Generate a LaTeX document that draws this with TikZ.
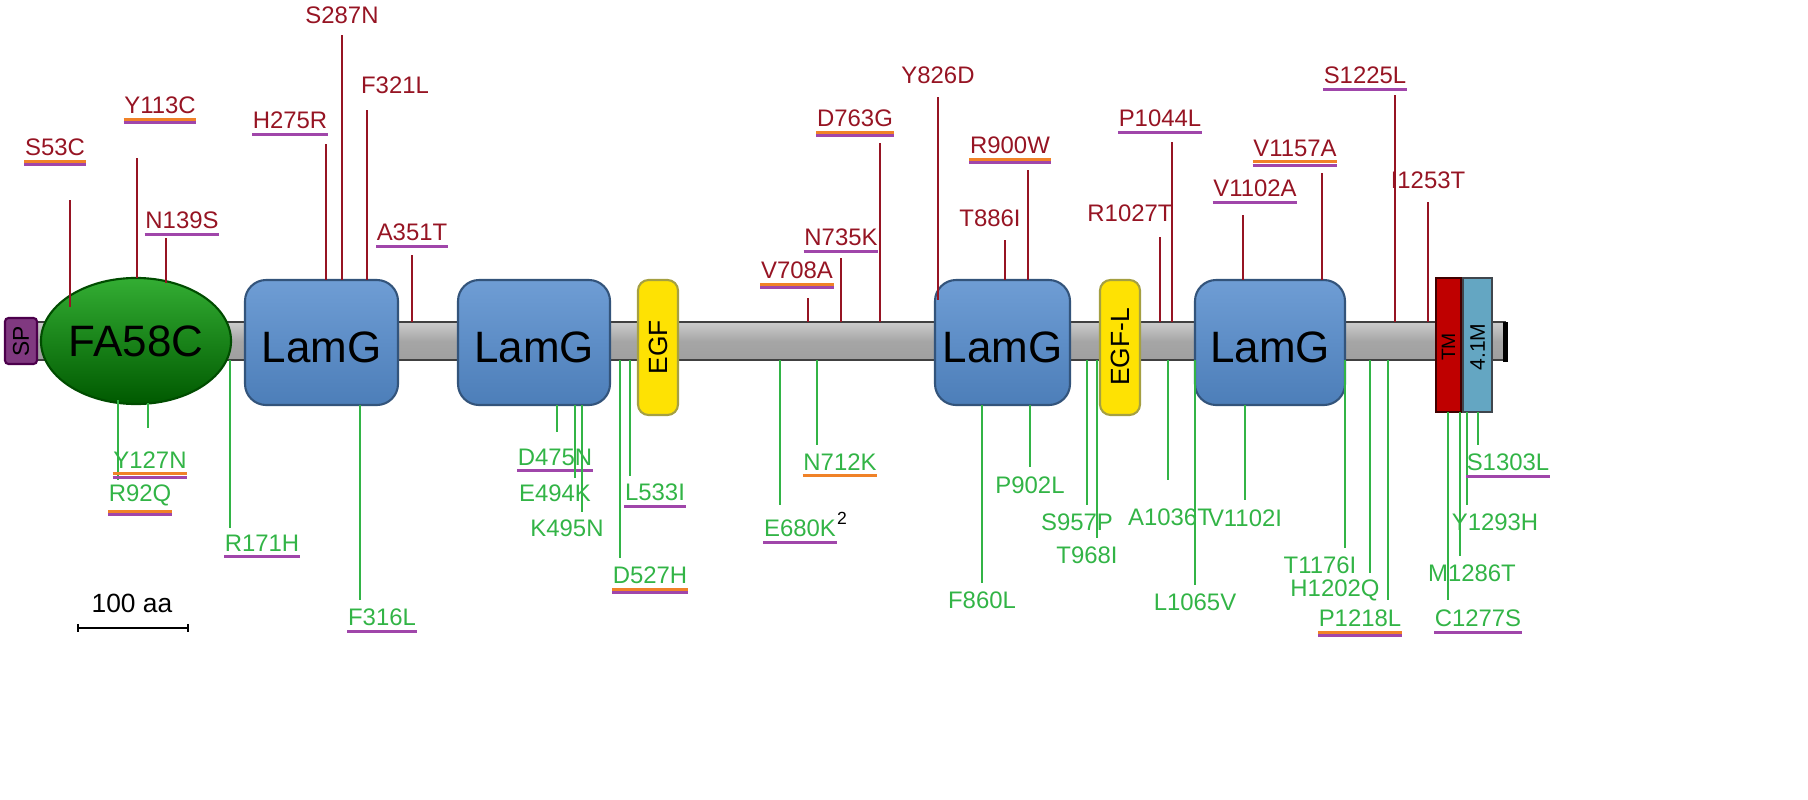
\documentclass[tikz,border=0pt]{standalone}
\usepackage{fontspec}
\setmainfont{Liberation Sans}
\usetikzlibrary{shapes.geometric}
\definecolor{mutred}{RGB}{150,20,35}
\definecolor{mutgreen}{RGB}{50,180,70}
\definecolor{ulorange}{RGB}{240,130,40}
\definecolor{ulpurple}{RGB}{160,70,170}
\definecolor{lamblue}{RGB}{85,140,205}
\tikzset{
  lbl/.style={inner sep=0, font=\fontsize{6.8}{8}\selectfont},
  dom/.style={draw=#1!60!black, line width=0.6pt, rounded corners=6pt},
  stick/.style={line width=0.45pt},
}
\newcommand{\ulmark}[2]{% node name, type
  \ifcase#2\or
    \draw[ulpurple, line width=0.85pt] ([yshift=-1.4pt]#1.south west) -- ([yshift=-1.4pt]#1.south east);
  \or
    \draw[ulorange, line width=0.85pt] ([yshift=-1.4pt]#1.south west) -- ([yshift=-1.4pt]#1.south east);
    \draw[ulpurple, line width=0.85pt] ([yshift=-2.4pt]#1.south west) -- ([yshift=-2.4pt]#1.south east);
  \or
    \draw[ulorange, line width=0.85pt] ([yshift=-1.4pt]#1.south west) -- ([yshift=-1.4pt]#1.south east);
  \fi}
\begin{document}
\begin{tikzpicture}[x=0.01cm, y=-0.01cm]
  \useasboundingbox (0,0) rectangle (1808,800);
  % backbone
  \shade[top color=gray!40, bottom color=gray!75, middle color=gray!70, draw=gray!50!black, line width=0.3pt]
    (5,322) rectangle (1505,360);
  \fill[black] (1503,322) rectangle (1508,362);
  % domains
  \node (sp) [dom=violet, fill=violet!55!gray, minimum width=0.46cm, minimum height=0.32cm, rounded corners=1pt,
    rotate=90, font=\fontsize{6.5}{8}\selectfont, inner sep=0] at (21,341) {SP};
  \node (fa58c) [ellipse, draw=green!30!black, line width=0.6pt, top color=green!60!black!80, bottom color=green!35!black,
    minimum width=1.56cm, minimum height=1.26cm, inner sep=0, font=\fontsize{12.5}{14}\selectfont] at (136,341) {FA58C};
  \foreach \xa/\xb/\nm in {245/398/lamg1, 458/610/lamg2, 935/1070/lamg3, 1195/1345/lamg4}{
    \path[dom=lamblue, top color=lamblue!85!white, bottom color=lamblue!90!black] (\xa,280) rectangle (\xb,405);
    \node (\nm) [font=\fontsize{12.5}{14}\selectfont] at ({(\xa+\xb)/2},347) {LamG};
  }
  \path[dom=yellow, fill=yellow!85!orange, rounded corners=3pt] (638,280) rectangle (678,415);
  \node (egf) [rotate=90, font=\fontsize{7.5}{9}\selectfont] at (658,347) {EGF};
  \path[dom=yellow, fill=yellow!85!orange, rounded corners=3pt] (1100,280) rectangle (1140,415);
  \node (egfl) [rotate=90, font=\fontsize{7.5}{9}\selectfont] at (1120,347) {EGF-L};
  \path[draw=red!25!black, fill=red!75!black, line width=0.5pt] (1436,278) rectangle (1461,412);
  \node (tm) [rotate=90, font=\fontsize{5.5}{7}\selectfont] at (1448.5,347) {TM};
  \path[draw=cyan!20!black, fill=cyan!50!gray, line width=0.5pt] (1463,278) rectangle (1492,412);
  \node (m41) [rotate=90, font=\fontsize{6}{7}\selectfont] at (1477.5,347) {4.1M};
  % mutations above
  \foreach \lx/\ly/\txt/\ul/\px/\ya/\yb [count=\i] in {
    55/147/S53C/2/70/200/307, 160/105/Y113C/2/137/158/278, 182/220/N139S/1/166/238/283,
    290/120/H275R/1/326/144/280, 342/15/S287N/0/342/35/280, 395/85/F321L/0/367/110/280,
    412/232/A351T/1/412/255/322, 797/270/V708A/2/808/298/322, 841/237/N735K/1/841/258/322,
    855/118/D763G/2/880/143/322, 938/75/Y826D/0/938/97/300, 990/218/T886I/0/1005/240/280,
    1010/145/R900W/2/1028/170/280, 1130/213/R1027T/0/1160/237/322, 1160/118/P1044L/1/1172/142/322,
    1255/188/V1102A/1/1243/215/280, 1295/148/V1157A/2/1322/173/280, 1365/75/S1225L/1/1395/95/322,
    1428/180/I1253T/0/1428/202/322}{
    \node (up\i) [lbl, text=mutred] at (\lx,\ly) {\txt};
    \coordinate (upa\i) at (\px,\ya);
    \coordinate (upb\i) at (\px,\yb);
    \draw[stick, mutred] (upa\i) -- (upb\i);
    \ulmark{up\i}{\ul}
  }
  % mutations below
  \foreach \lx/\ly/\txt/\ul/\px/\ya/\yb [count=\i] in {
    140/495/R92Q/2/118/400/480, 150/460/Y127N/2/148/403/428, 262/543/R171H/1/230/360/528,
    382/617/F316L/1/360/405/600, 555/457/D475N/1/557/405/432, 555/493/E494K/0/575/405/478,
    567/528/K495N/0/582/405/512, 650/575/D527H/2/620/360/558, 655/492/L533I/1/630/360/476,
    800/528/E680K/1/780/360/505, 840/462/N712K/3/817/360/445, 982/600/F860L/0/982/405/583,
    1030/485/P902L/0/1030/405/467, 1077/522/S957P/0/1087/360/505, 1087/555/T968I/0/1097/360/538,
    1170/517/A1036T/0/1168/360/480, 1195/602/L1065V/0/1195/360/585, 1245/518/V1102I/0/1245/405/500,
    1320/565/T1176I/0/1345/360/548, 1335/590/H1202Q/0/1370/360/573, 1360/618/P1218L/2/1388/360/600,
    1478/618/C1277S/1/1448/412/600, 1472/573/M1286T/0/1460/412/556, 1495/522/Y1293H/0/1467/412/505,
    1508/462/S1303L/1/1478/412/445}{
    \node (dn\i) [lbl, text=mutgreen] at (\lx,\ly) {\txt};
    \coordinate (dna\i) at (\px,\ya);
    \coordinate (dnb\i) at (\px,\yb);
    \draw[stick, mutgreen] (dna\i) -- (dnb\i);
    \ulmark{dn\i}{\ul}
  }
  \node (sup2) [lbl, text=black, font=\fontsize{5}{6}\selectfont] at (842,518) {2};
  % scale bar
  \node (scale) [lbl, font=\fontsize{7.5}{9}\selectfont] at (132,603) {100 aa};
  \coordinate (sca) at (78,628);
  \coordinate (scb) at (188,628);
  \draw[line width=0.6pt] (sca) -- (scb);
  \draw[line width=0.6pt] ([yshift=1.2pt]sca) -- ([yshift=-1.2pt]sca) ([yshift=1.2pt]scb) -- ([yshift=-1.2pt]scb);
\end{tikzpicture}
\end{document}
